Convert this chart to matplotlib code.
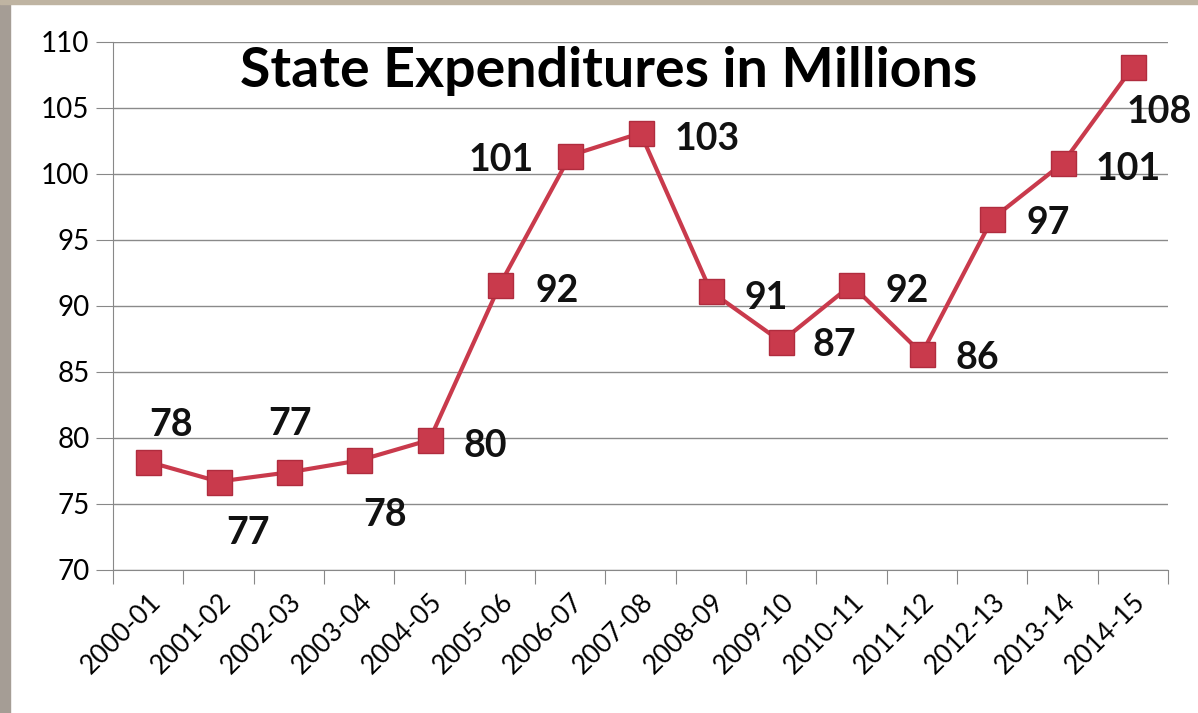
import numpy as np
import matplotlib.pyplot as plt
from matplotlib.patches import Rectangle
from matplotlib.transforms import ScaledTranslation

years = ["2000-01", "2001-02", "2002-03", "2003-04", "2004-05", "2005-06", "2006-07",
         "2007-08", "2008-09", "2009-10", "2010-11", "2011-12", "2012-13", "2013-14", "2014-15"]
spending = [78.2, 76.7, 77.4, 78.3, 79.85, 91.6, 101.4, 103.1, 91.1, 87.3, 91.6, 86.4, 96.6, 100.8, 108.1]
y_ticks = [70, 75, 80, 85, 90, 95, 100, 105, 110]

# label offsets in points (dx, dy)
offsets = [(16.5, 26.5), (21, -37), (1, 34.5), (19, -39.5), (40, -4.5), (41, -4.5), (-50, -3.5),
           (48, -4), (40, -4.5), (38, -2.5), (40, -4.5), (40, -3.5), (40, -3), (47, -4), (19, -32.5)]

RED = "#c93a4c"

fig = plt.figure(figsize=(11.98, 7.13), dpi=100)
fig.patch.set_facecolor("white")
fig.patches.append(Rectangle((0, 0), 10 / 1198, 1, transform=fig.transFigure,
                             color="#a59d95", zorder=0))
fig.patches.append(Rectangle((0, 1 - 4 / 713), 1, 4 / 713, transform=fig.transFigure,
                             color="#bfb4a2", zorder=0))

ax = fig.add_axes([113 / 1198, 1 - 570 / 713, (1168 - 113) / 1198, (570 - 42) / 713])
x = np.arange(len(years))
ax.plot(x, spending, color=RED, lw=3, marker="s", markersize=18,
        markerfacecolor=RED, markeredgecolor="#b02c3e", markeredgewidth=1, zorder=3)

for i, v in enumerate(spending):
    ax.annotate(f"{v:.0f}", (x[i], v), xytext=offsets[i], textcoords="offset points",
                ha="center", va="center", fontsize=27, fontweight="bold",
                family="Lato", color="#111111")

ax.set_xlim(-0.5, len(years) - 0.5)
ax.set_ylim(70, 110)
ax.set_yticks(y_ticks)
ax.set_xticks(np.arange(len(years) + 1) - 0.5)
ax.set_xticklabels([])
ax.set_xticks(x, minor=True)
ax.set_xticklabels(years, minor=True, rotation=45, ha="right", va="top",
                   rotation_mode="anchor", fontsize=19, family="Lato")
shift = ScaledTranslation(7 / 100, 0, fig.dpi_scale_trans)
for lbl in ax.get_xticklabels(minor=True):
    lbl.set_transform(lbl.get_transform() + shift)
ax.tick_params(axis="x", which="major", length=10, color="#888888", direction="out")
ax.tick_params(axis="x", which="minor", length=0, pad=14)
ax.tick_params(axis="y", length=12, color="#888888", labelsize=20, pad=5)
for lbl in ax.get_yticklabels():
    lbl.set_family("Lato")

ax.grid(axis="y", color="#8a8a8a", lw=1)
ax.set_axisbelow(True)
for s in ["top", "right"]:
    ax.spines[s].set_visible(False)
for s in ["left", "bottom"]:
    ax.spines[s].set_color("#888888")

ax.text(0.47, 0.945, "State Expenditures in Millions", transform=ax.transAxes,
        ha="center", va="center", fontsize=40, fontweight="bold", family="Lato")

fig.savefig("out.png", dpi=100)
